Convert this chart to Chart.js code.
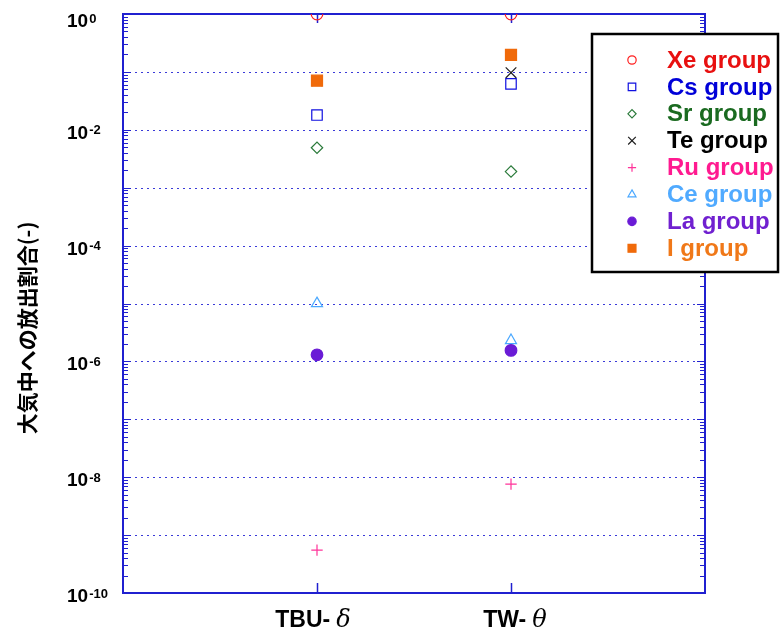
<!DOCTYPE html>
<html>
<head>
<meta charset="utf-8">
<script src="https://cdn.jsdelivr.net/npm/chart.js@4/dist/chart.umd.min.js"></script>
<style>
  html, body { margin: 0; padding: 0; background: #ffffff; }
  #wrap { width: 781px; height: 632px; }
</style>
</head>
<body>
<div id="wrap"><canvas id="c" width="781" height="632"></canvas></div>
<script>
// Release fractions to the atmosphere per nuclide group, two accident sequences.
const categories = ['TBU-', 'TW-'];
const categorySymbols = ['δ', 'θ'];
const groupNames = ['Xe group', 'Cs group', 'Sr group', 'Te group', 'Ru group', 'Ce group', 'La group', 'I group'];

const xeGroup = [1.0, 1.0];
const csGroup = [0.018, 0.062];
const srGroup = [0.0049, 0.0019];
const teGroup = [0.07, 0.097];
const ruGroup = [5.5e-10, 7.6e-9];
const ceGroup = [1.0e-5, 2.3e-6];
const laGroup = [1.3e-6, 1.55e-6];
const iGroup  = [0.0705, 0.196];

const yTickExponents = [0, -2, -4, -6, -8, -10];
const yTitle = '大気中への放出割合(-)';

// marker looks per group
const styles = [
  { pointStyle: 'circle',    radius: 5.8, color: '#ff2020', fill: false, text: '#e81010' },
  { pointStyle: 'rect',      radius: 7.4, color: '#1010e0', fill: false, text: '#0000d8' },
  { pointStyle: 'rectRot',   radius: 5.7, color: '#2a7a3a', fill: false, text: '#1a6a20' },
  { pointStyle: 'crossRot',  radius: 7.5, color: '#202020', fill: false, text: '#000000' },
  { pointStyle: 'cross',     radius: 5.7, color: '#ff3399', fill: false, text: '#ff1a90' },
  { pointStyle: 'triangle',  radius: 6.4, color: '#4aa8ff', fill: false, text: '#50aaff' },
  { pointStyle: 'circle',    radius: 5.8, color: '#6a1bd6', fill: true,  text: '#7020d0' },
  { pointStyle: 'rect',      radius: 7.8, color: '#f06a0a', fill: true,  text: '#f07818' }
];
const seriesValues = [xeGroup, csGroup, srGroup, teGroup, ruGroup, ceGroup, laGroup, iGroup];

const datasets = seriesValues.map((vals, i) => ({
  label: groupNames[i],
  data: vals.map((v, k) => ({ x: k + 1, y: v })),
  order: seriesValues.length - i,   // later groups drawn on top
  pointStyle: styles[i].pointStyle,
  pointRadius: styles[i].radius,
  pointHoverRadius: styles[i].radius,
  pointBorderWidth: 1.2,
  pointBorderColor: styles[i].color,
  pointBackgroundColor: styles[i].fill ? styles[i].color : 'rgba(0,0,0,0)',
  showLine: false
}));

const FRAME = '#2020d0';

const decorPlugin = {
  id: 'decor',
  beforeDatasetsDraw(chart) {
    const ctx = chart.ctx;
    const area = chart.chartArea;
    const ys = chart.scales.y, xs = chart.scales.x;
    ctx.save();
    // dotted decade grid lines
    ctx.strokeStyle = '#3a3ad8';
    ctx.lineWidth = 1;
    ctx.setLineDash([2, 4]);
    for (let e = -9; e <= -1; e++) {
      const py = Math.round(ys.getPixelForValue(Math.pow(10, e))) + 0.5;
      ctx.beginPath();
      ctx.moveTo(area.left, py);
      ctx.lineTo(area.right, py);
      ctx.stroke();
    }
    ctx.setLineDash([]);
    // minor and major ticks on left and right axes
    ctx.strokeStyle = FRAME;
    ctx.lineWidth = 1;
    for (let e = -10; e < 0; e++) {
      for (let k = 1; k <= 9; k++) {
        const py = Math.round(ys.getPixelForValue(k * Math.pow(10, e))) + 0.5;
        const len = k === 1 ? 8 : 5;
        ctx.beginPath();
        ctx.moveTo(area.left, py); ctx.lineTo(area.left + len, py);
        ctx.moveTo(area.right, py); ctx.lineTo(area.right - len, py);
        ctx.stroke();
      }
    }
    // category ticks on bottom and top
    ctx.lineWidth = 1.5;
    categories.forEach((c, i) => {
      const px = Math.round(xs.getPixelForValue(i + 1)) + 0.5;
      ctx.beginPath();
      ctx.moveTo(px, area.bottom); ctx.lineTo(px, area.bottom - 10);
      ctx.moveTo(px, area.top); ctx.lineTo(px, area.top + 9);
      ctx.stroke();
    });
    // frame
    ctx.lineWidth = 2;
    ctx.strokeRect(area.left, area.top, area.right - area.left, area.bottom - area.top);
    ctx.restore();
  },
  afterDraw(chart) {
    const ctx = chart.ctx;
    const ys = chart.scales.y, xs = chart.scales.x;
    ctx.save();
    // y tick labels: 10 with superscript exponent
    ctx.fillStyle = '#000000';
    ctx.textAlign = 'left';
    ctx.textBaseline = 'alphabetic';
    yTickExponents.forEach(e => {
      const py = ys.getPixelForValue(Math.pow(10, e));
      const base = Math.max(py + 9, 27);
      ctx.font = 'bold 19px "Liberation Sans", Arial, sans-serif';
      ctx.fillText('10', 67, base);
      const w = ctx.measureText('10').width;
      ctx.font = 'bold 13px "Liberation Sans", Arial, sans-serif';
      ctx.fillText(String(e), 67 + w + 1, base - 4.5);
    });
    // y axis title
    ctx.save();
    ctx.translate(27, 328);
    ctx.rotate(-Math.PI / 2);
    ctx.textAlign = 'center';
    ctx.textBaseline = 'middle';
    ctx.font = 'bold 21px "Noto Sans CJK JP", sans-serif';
    ctx.fillText(yTitle, 0, 0);
    ctx.restore();
    // category labels
    categories.forEach((c, i) => {
      const px = xs.getPixelForValue(i + 1);
      ctx.font = 'bold 23px "Liberation Sans", Arial, sans-serif';
      const w1 = ctx.measureText(c).width;
      ctx.font = 'italic 24px "DejaVu Serif", "Liberation Serif", serif';
      const w2 = ctx.measureText(categorySymbols[i]).width;
      const gap = 6;
      const x0 = px - (w1 + gap + w2) / 2 - 4 + i * 8;
      ctx.textAlign = 'left';
      ctx.font = 'bold 23px "Liberation Sans", Arial, sans-serif';
      ctx.fillText(c, x0, 627);
      ctx.font = 'italic 24px "DejaVu Serif", "Liberation Serif", serif';
      ctx.fillText(categorySymbols[i], x0 + w1 + gap, 627);
    });
    // legend box
    const bx = 592, by = 34, bw = 186, bh = 238;
    ctx.fillStyle = '#ffffff';
    ctx.fillRect(bx, by, bw, bh);
    ctx.strokeStyle = '#000000';
    ctx.lineWidth = 2.5;
    ctx.strokeRect(bx, by, bw, bh);
    const rowY0 = 60, rowStep = 26.9;
    chart.data.datasets.forEach((ds, i) => {
      const yy = rowY0 + i * rowStep;
      const st = styles[i];
      ctx.save();
      ctx.strokeStyle = st.color;
      ctx.fillStyle = st.fill ? st.color : 'rgba(0,0,0,0)';
      ctx.lineWidth = 1.2;
      Chart.helpers.drawPoint(ctx, {
        pointStyle: st.pointStyle,
        radius: st.radius * 0.72,
        rotation: 0,
        borderWidth: 1.2
      }, 632, yy);
      ctx.restore();
      ctx.fillStyle = st.text;
      ctx.font = 'bold 24px "Liberation Sans", Arial, sans-serif';
      ctx.textAlign = 'left';
      ctx.textBaseline = 'middle';
      ctx.fillText(ds.label, 667, yy + 1);
    });
    ctx.restore();
  }
};

new Chart(document.getElementById('c'), {
  type: 'scatter',
  data: { datasets },
  options: {
    responsive: false,
    animation: false,
    events: [],
    layout: { padding: { left: 0, top: 14, right: 76, bottom: 0 } },
    plugins: { legend: { display: false }, tooltip: { enabled: false } },
    scales: {
      x: {
        type: 'linear', min: 0, max: 3,
        grid: { display: false },
        border: { display: false },
        ticks: { display: false },
        afterFit(s) { s.height = 39; }
      },
      y: {
        type: 'logarithmic', min: 1e-10, max: 1,
        grid: { display: false },
        border: { display: false },
        ticks: { display: false },
        afterFit(s) { s.width = 123; }
      }
    }
  },
  plugins: [decorPlugin]
});
</script>
</body>
</html>
